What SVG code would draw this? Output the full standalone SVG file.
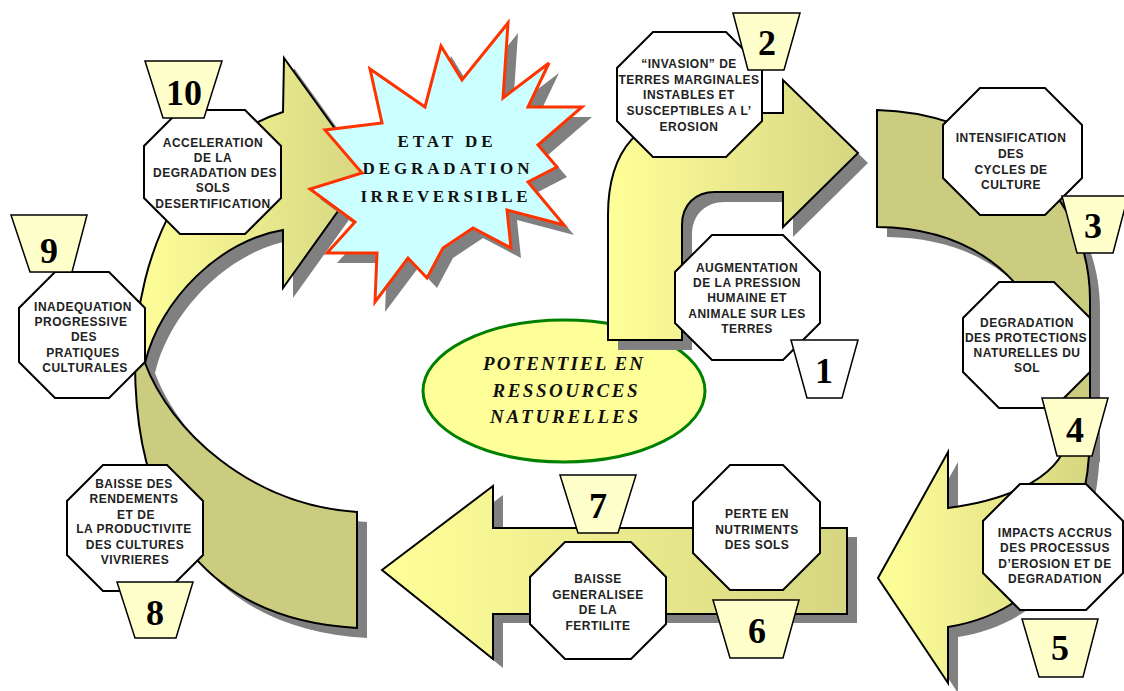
<svg xmlns="http://www.w3.org/2000/svg" xmlns:xlink="http://www.w3.org/1999/xlink" width="1124" height="691" viewBox="0 0 1124 691">
  <style>
    .oct { fill:#ffffff; stroke:#000000; stroke-width:2; }
    .lbl { font-family:"Liberation Sans", Arial, sans-serif; font-weight:bold; font-size:12px; fill:#222222; text-anchor:middle; letter-spacing:0.5px; }
    .badge { fill:#FFFFCC; stroke:#000000; stroke-width:1.5; }
    .num { font-family:"Liberation Serif", "Times New Roman", serif; font-weight:bold; font-size:36px; fill:#000000; text-anchor:middle; }
    .shadow { fill:#808080; stroke:none; }
    .edge { stroke:#000000; stroke-width:2; stroke-linejoin:miter; }
    .olive { fill:#CCCC80; }
    .title { font-family:"Liberation Serif", "Times New Roman", serif; font-weight:bold; font-size:17px; fill:#111111; text-anchor:middle; }
    .core { font-family:"Liberation Serif", "Times New Roman", serif; font-weight:bold; font-style:italic; font-size:19px; fill:#111111; text-anchor:middle; }
  </style>
  <defs>
    <linearGradient id="gYellow" x1="0" y1="0" x2="1" y2="0">
      <stop offset="0" stop-color="#FFFF99"/>
      <stop offset="1" stop-color="#D6D682"/>
    </linearGradient>
    <!-- arrow outlines, reused for drop shadows -->
    <path id="leftUpper" d="M135,363 C135,250 190,140 283,112 L284,58 L366,172 L283,288 L283,230 C220,240 160,300 145,363 Z"/>
    <path id="leftLower" d="M135,363 L145,363 C170,430 250,505 357,512 L357,628 C215,620 135,530 135,363 Z"/>
    <path id="rightUpper" d="M877,110 C980,112 1090,180 1090,300 L1090,452 L1068,452 C1068,300 990,228 877,227 Z"/>
    <path id="rightLower" d="M1068,430 C1068,475 1010,500 948,508 L948,452 L878,578 L948,683 L948,627 C1040,612 1090,540 1090,430 Z"/>
    <path id="bottomArrow" d="M847,528 L493,528 L493,486 L382,570 L493,659 L493,614 L847,614 Z"/>
    <path id="bentArrow" d="M608,340 L608,215 C608,150 640,113 700,113 L783,113 L783,80 L858,153 L783,227 L783,192 L715,192 C695,192 682,205 682,225 L682,340 Z"/>
    <polygon id="starShape" points="508,23 503,98 549,63 528,107 582,107 538,145 557,167 528,182 564,225 507,210 511,248 473,228 443,248 427,278 408,258 375,302 377,253 327,253 355,222 310,189 362,173 325,130 382,123 370,69 425,107 441,46 462,80"/>
  </defs>

  <!-- central resource ellipse -->
  <g id="potentiel">
    <ellipse cx="564" cy="391" rx="141" ry="71" fill="#FFFF99" stroke="#008000" stroke-width="3"/>
    <text class="core" x="563" y="370" textLength="160" lengthAdjust="spacing">POTENTIEL EN</text>
    <text class="core" x="565" y="397" textLength="145" lengthAdjust="spacing">RESSOURCES</text>
    <text class="core" x="564" y="423" textLength="148" lengthAdjust="spacing">NATURELLES</text>
  </g>

  <!-- cycle arrows -->
  <g id="connectors">
    <g id="arrow-left">
      <use xlink:href="#leftUpper" class="shadow" transform="translate(10,10)"/>
      <use xlink:href="#leftLower" class="shadow" transform="translate(10,10)"/>
      <use xlink:href="#leftLower" class="olive edge"/>
      <use xlink:href="#leftUpper" class="edge" fill="url(#gYellow)"/>
    </g>
    <g id="arrow-right">
      <use xlink:href="#rightUpper" class="shadow" transform="translate(10,10)"/>
      <use xlink:href="#rightLower" class="shadow" transform="translate(10,10)"/>
      <use xlink:href="#rightLower" class="edge" fill="url(#gYellow)"/>
      <use xlink:href="#rightUpper" class="olive edge"/>
    </g>
    <g id="arrow-bottom">
      <use xlink:href="#bottomArrow" class="shadow" transform="translate(10,9)"/>
      <use xlink:href="#bottomArrow" class="edge" fill="url(#gYellow)"/>
    </g>
    <g id="arrow-bent">
      <use xlink:href="#bentArrow" class="shadow" transform="translate(10,10)"/>
      <use xlink:href="#bentArrow" class="edge" fill="url(#gYellow)"/>
    </g>
  </g>

  <!-- irreversible state burst -->
  <g id="etat">
    <use xlink:href="#starShape" class="shadow" transform="translate(10,10)"/>
    <use xlink:href="#starShape" fill="#CCFFFF" stroke="#FF3300" stroke-width="3" stroke-linejoin="miter"/>
    <text class="title" x="445" y="147" textLength="95" lengthAdjust="spacing">ETAT DE</text>
    <text class="title" x="446" y="174" textLength="167" lengthAdjust="spacing">DEGRADATION</text>
    <text class="title" x="444" y="202" textLength="167" lengthAdjust="spacing">IRREVERSIBLE</text>
  </g>

  <!-- step boxes -->
  <g id="step1">
    <polygon class="oct" points="712,235 783,235 820,272 820,323 783,360 712,360 675,323 675,272"/>
    <text class="lbl"><tspan x="747" y="272">AUGMENTATION</tspan><tspan x="747" y="287">DE LA PRESSION</tspan><tspan x="747" y="302">HUMAINE ET</tspan><tspan x="747" y="318">ANIMALE SUR LES</tspan><tspan x="747" y="333">TERRES</tspan></text>
  </g>
  <g id="step2">
    <polygon class="oct" points="653,32 726,32 762,68 762,121 726,157 653,157 617,121 617,68"/>
    <text class="lbl"><tspan x="689" y="68">“INVASION” DE</tspan><tspan x="689" y="84">TERRES MARGINALES</tspan><tspan x="689" y="99">INSTABLES ET</tspan><tspan x="689" y="115">SUSCEPTIBLES A L’</tspan><tspan x="689" y="131">EROSION</tspan></text>
  </g>
  <g id="step3">
    <polygon class="oct" points="980,88 1045,88 1082,125 1082,178 1045,215 980,215 943,178 943,125"/>
    <text class="lbl"><tspan x="1011" y="142">INTENSIFICATION</tspan><tspan x="1011" y="158">DES</tspan><tspan x="1011" y="174">CYCLES DE</tspan><tspan x="1011" y="189">CULTURE</tspan></text>
  </g>
  <g id="step4">
    <polygon class="oct" points="999,282 1054,282 1090,318 1090,372 1054,408 999,408 963,372 963,318"/>
    <text class="lbl"><tspan x="1027" y="327">DEGRADATION</tspan><tspan x="1026" y="342">DES PROTECTIONS</tspan><tspan x="1027" y="357">NATURELLES DU</tspan><tspan x="1027" y="372">SOL</tspan></text>
  </g>
  <g id="step5">
    <polygon class="oct" points="1020,484 1086,484 1123,521 1123,573 1086,610 1020,610 983,573 983,521"/>
    <text class="lbl"><tspan x="1055" y="537">IMPACTS ACCRUS</tspan><tspan x="1055" y="552">DES PROCESSUS</tspan><tspan x="1055" y="568">D’EROSION ET DE</tspan><tspan x="1055" y="583">DEGRADATION</tspan></text>
  </g>
  <g id="step6">
    <polygon class="oct" points="730,465 783,465 820,502 820,553 783,590 730,590 693,553 693,502"/>
    <text class="lbl"><tspan x="757" y="518">PERTE EN</tspan><tspan x="757" y="534">NUTRIMENTS</tspan><tspan x="757" y="549">DES SOLS</tspan></text>
  </g>
  <g id="step7">
    <polygon class="oct" points="565,542 631,542 666,577 666,624 631,659 565,659 530,624 530,577"/>
    <text class="lbl"><tspan x="598" y="583">BAISSE</tspan><tspan x="598" y="599">GENERALISEE</tspan><tspan x="598" y="614">DE LA</tspan><tspan x="598" y="630">FERTILITE</tspan></text>
  </g>
  <g id="step8">
    <polygon class="oct" points="103,465 167,465 203,501 203,555 167,591 103,591 67,555 67,501"/>
    <text class="lbl"><tspan x="134" y="488">BAISSE DES</tspan><tspan x="134" y="503">RENDEMENTS</tspan><tspan x="136" y="519">ET DE</tspan><tspan x="134" y="533">LA PRODUCTIVITE</tspan><tspan x="135" y="549">DES CULTURES</tspan><tspan x="135" y="564">VIVRIERES</tspan></text>
  </g>
  <g id="step9">
    <polygon class="oct" points="55,272 109,272 145,308 145,362 109,398 55,398 19,362 19,308"/>
    <text class="lbl"><tspan x="83" y="311">INADEQUATION</tspan><tspan x="81" y="326">PROGRESSIVE</tspan><tspan x="84" y="341">DES</tspan><tspan x="83" y="357">PRATIQUES</tspan><tspan x="85" y="372">CULTURALES</tspan></text>
  </g>
  <g id="step10">
    <polygon class="oct" points="180,110 245,110 281,146 281,198 245,234 180,234 144,198 144,146"/>
    <text class="lbl"><tspan x="213" y="147">ACCELERATION</tspan><tspan x="213" y="162">DE LA</tspan><tspan x="215" y="177">DEGRADATION DES</tspan><tspan x="213" y="192">SOLS</tspan><tspan x="213" y="208">DESERTIFICATION</tspan></text>
  </g>

  <!-- step numbers -->
  <g id="badge1"><polygon class="badge" fill="#ffffff" style="fill:#ffffff" points="791,340 858,340 842,398 807,398"/><text class="num" x="824" y="383">1</text></g>
  <g id="badge2"><polygon class="badge" points="733,13 800,13 784,70 748,70"/><text class="num" x="767" y="55">2</text></g>
  <g id="badge3"><polygon class="badge" points="1062,196 1128,196 1113,253 1077,253"/><text class="num" x="1093" y="238">3</text></g>
  <g id="badge4"><polygon class="badge" points="1042,398 1108,398 1092,456 1057,456"/><text class="num" x="1075" y="442">4</text></g>
  <g id="badge5"><polygon class="badge" points="1022,619 1098,619 1083,677 1039,677"/><text class="num" x="1060" y="660">5</text></g>
  <g id="badge6"><polygon class="badge" points="713,600 799,600 783,658 730,658"/><text class="num" x="757" y="643">6</text></g>
  <g id="badge7"><polygon class="badge" points="560,475 636,475 618,533 578,533"/><text class="num" x="598" y="518">7</text></g>
  <g id="badge8"><polygon class="badge" points="117,582 193,582 176,638 135,638"/><text class="num" x="155" y="625">8</text></g>
  <g id="badge9"><polygon class="badge" points="11,215 87,215 72,272 30,272"/><text class="num" x="49" y="263">9</text></g>
  <g id="badge10"><polygon class="badge" points="145,61 222,61 204,118 163,118"/><text class="num" x="184" y="105">10</text></g>
</svg>
